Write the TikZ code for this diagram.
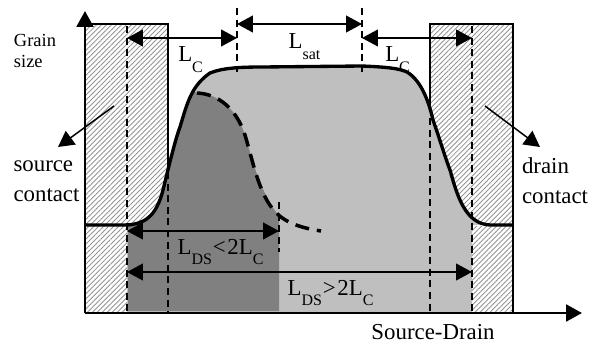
\documentclass[tikz,border=0pt]{standalone}
\usepackage{fontspec}
\setmainfont{Liberation Serif}
\usetikzlibrary{arrows.meta,patterns.meta}
\tikzset{
  dimarrow/.style={line width=0.85pt,{Triangle[length=9pt,width=9.5pt]}-{Triangle[length=9pt,width=9.5pt]}},
  onearrow/.style={line width=0.85pt,-{Triangle[length=9pt,width=9.5pt]}},
  axisline/.style={line width=1.5pt,-{Triangle[length=9pt,width=9.5pt]}},
  guide/.style={line width=0.9pt,dash pattern=on 4pt off 2.6pt},
  hatched/.style={pattern={Lines[angle=45,distance=2pt,line width=0.5pt]},pattern color=black!42},
  lab/.style={font=\fontsize{13}{15}\selectfont,inner sep=0pt},
  smalllab/.style={font=\fontsize{10.5}{12.5}\selectfont,inner sep=0pt,align=left},
}
\newcommand{\Lsub}[1]{L\textsubscript{\raisebox{-1.05ex}{#1}}}
\newcommand{\grainpath}{(127,225) .. controls (143,224) and (156,218) .. (163,190)
  .. controls (168,170) and (175,140) .. (180,127)
  .. controls (187,104) and (191,86) .. (210,73)
  .. controls (222,68) and (240,67) .. (262,67) -- (362,66)
  .. controls (385,67) and (398,68) .. (407,72)
  .. controls (420,80) and (428,98) .. (433,120)
  .. controls (440,140) and (446,160) .. (450,170)
  .. controls (457,195) and (465,224) .. (490,225)}
\begin{document}
\begin{tikzpicture}[x=0.02cm,y=-0.02cm]
\useasboundingbox (0,0) rectangle (589,345);
% contacts
\fill[hatched] (86,24) rectangle (168,224);
\fill[hatched] (86,226) rectangle (127,312);
\fill[hatched] (430,24) rectangle (513,224);
\fill[hatched] (472,226) rectangle (513,312);
% grain regions
\fill[black!25] (127,312) -- \grainpath -- (472,225) -- (472,312) -- cycle;
\fill[black!50] (128,311) -- (128,225)
  .. controls (143,224) and (156,218) .. (163,190)
  .. controls (168,170) and (175,140) .. (180,127)
  .. controls (185,110) and (189,98) .. (193,92)
  .. controls (215,93) and (235,105) .. (245,135)
  .. controls (250,150) and (258,190) .. (279,216) -- (279,311) -- cycle;

% named points
\coordinate (origin) at (85,313);
\coordinate (ytip) at (85,11);
\coordinate (xtip) at (582,313);
\coordinate (srcleft) at (127,38);
\coordinate (lcleft) at (237,38);
\coordinate (satleft) at (237,24);
\coordinate (satright) at (362,24);
\coordinate (lcright) at (362,38);
\coordinate (drnright) at (472,38);
\coordinate (shortleft) at (127,231);
\coordinate (shortright) at (279,231);
\coordinate (longleft) at (127,272);
\coordinate (longright) at (472,272);
\coordinate (srcfrom) at (114,106);
\coordinate (srcto) at (58,147);
\coordinate (drnfrom) at (485,106);
\coordinate (drnto) at (540,147);

% contact outlines
\draw[line width=1.1pt] (85,24) -- (168,24) -- (168,172);
\draw[line width=1.1pt] (430,105) -- (430,24) -- (513,24) -- (513,313);

% dashed guides
\draw[guide] (127,26) -- (127,312);
\draw[guide] (168,172) -- (168,313);
\draw[guide] (237,8) -- (237,72);
\draw[guide] (362,8) -- (362,72);
\draw[guide] (430,118) -- (430,312);
\draw[guide] (472,26) -- (472,312);
\draw[guide] (279,202) -- (279,252);

% grain size curves
\draw[line width=1.9pt] (86,225) -- \grainpath -- (513,225);
\draw[line width=2pt,dash pattern=on 8pt off 4.5pt] (197,93)
  .. controls (218,94) and (236,108) .. (245,135)
  .. controls (252,158) and (258,190) .. (272,208)
  .. controls (281,220) and (295,227) .. (321,231);

% axes
\draw[axisline] (origin) -- (ytip);
\draw[axisline] (origin) -- (xtip);

% dimensions
\draw[dimarrow] (srcleft) -- (lcleft);
\draw[dimarrow] (satleft) -- (satright);
\draw[dimarrow] (lcright) -- (drnright);
\draw[dimarrow] (shortleft) -- (shortright);
\draw[dimarrow] (longleft) -- (longright);
\draw[onearrow] (srcfrom) -- (srcto);
\draw[onearrow] (drnfrom) -- (drnto);

% labels
\node[smalllab] (grain) at (35,51) {Grain\\size};
\node[lab,align=left] (source) at (46.5,181) {source\\[2pt]contact};
\node[lab,align=left] (drain) at (555,181) {drain\\[2pt]contact};
\node[lab] (lcone) at (191,60) {\Lsub{C}};
\node[lab] (lsat) at (305,47) {\Lsub{sat}};
\node[lab] (lctwo) at (398,60) {\Lsub{C}};
\node[lab] (lshort) at (221,252) {\Lsub{DS}<\kern1pt2\Lsub{C}};
\node[lab] (llong) at (331,293) {\Lsub{DS}>\kern1pt2\Lsub{C}};
\node[lab] (xlabel) at (433,332) {Source-Drain};
\end{tikzpicture}
\end{document}
